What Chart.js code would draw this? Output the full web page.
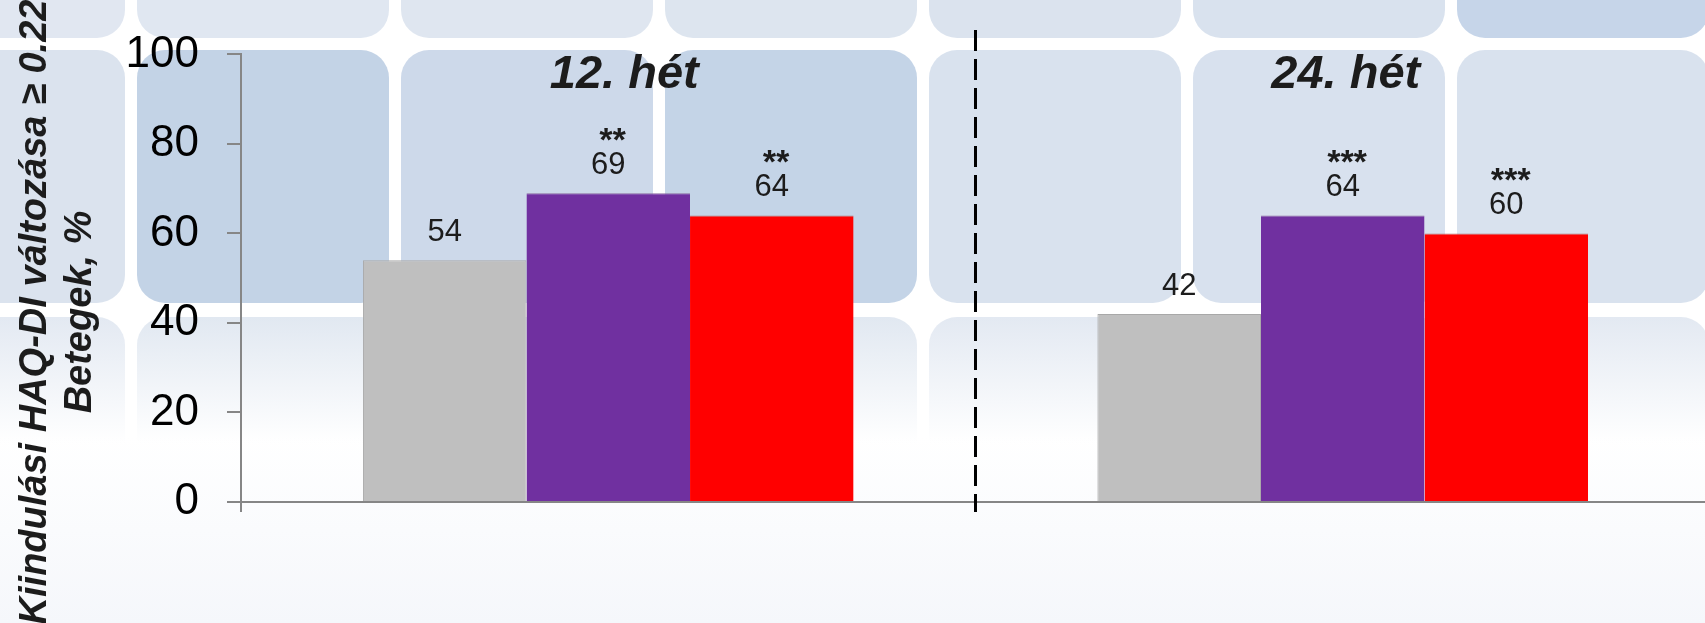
<!DOCTYPE html>
<html lang="hu">
<head>
<meta charset="utf-8">
<title>HAQ-DI válaszadók</title>
<script src="https://cdn.jsdelivr.net/npm/chart.js@4.4.1/dist/chart.umd.min.js"></script>
<style>
  html, body { margin: 0; padding: 0; }
  body {
    width: 1705px; height: 623px; overflow: hidden; position: relative;
    background: linear-gradient(#ffffff 70%, #f5f7fb);
  }
  #tiles { position: absolute; left: 0; top: 0; width: 1705px; height: 623px; overflow: hidden; }
  .tile { position: absolute; width: 252px; height: 253px; border-radius: 28px; }
  #chart { position: absolute; left: 0; top: 0; }
</style>
</head>
<body>
<div id="tiles"></div>
<canvas id="chart" width="1710" height="623"></canvas>
<script>
const categories = ['12. hét', '24. hét'];
const seriesNames = ['Csoport 1', 'Csoport 2', 'Csoport 3'];
const grayValues = [54, 42];
const purpleValues = [69, 64];
const redValues = [64, 60];
const grayStars = ['', ''];
const purpleStars = ['**', '***'];
const redStars = ['**', '***'];
const yTicks = [0, 20, 40, 60, 80, 100];
const yTitleLines = ['Kiindulási HAQ-DI változása ≥ 0.22', 'Betegek, %'];

const fontFamily = '"Liberation Sans", Arial, Helvetica, sans-serif';
const axisGray = '#868686';
const textDark = '#1c1c1c';

// rounded tile backdrop
const tileRows = [
  { top: -215, colors: ['#e1e7f1', '#e0e7f1', '#dfe6f0', '#dde5ef', '#dbe3ee', '#d9e2ee', '#c6d5e9'] },
  { top: 50, colors: ['#dbe3ee', '#c3d3e6', '#cdd9ea', '#c4d4e7', '#d9e2ee', '#d8e1ee', '#d9e2ee'] },
  { top: 317, colors: ['#e3e9f2', '#e1e8f1', '#e1e8f1', '#e1e8f1', '#e3e9f2', '#e3e9f2', '#e3e9f2'], fade: true }
];
const tilesEl = document.getElementById('tiles');
tileRows.forEach(row => {
  row.colors.forEach((c, k) => {
    const t = document.createElement('div');
    t.className = 'tile';
    t.style.left = (137 + 264 * (k - 1)) + 'px';
    t.style.top = row.top + 'px';
    t.style.background = row.fade
      ? `linear-gradient(${c}, rgba(255,255,255,0) 50%)`
      : `linear-gradient(${c}, ${c})`;
    tilesEl.appendChild(t);
  });
});

const annotate = {
  id: 'annotate',
  afterDatasetsDraw(chart) {
    const { ctx, chartArea, scales: { x } } = chart;
    ctx.save();

    // dashed divider between the two weeks
    const mid = (x.getPixelForValue(0) + x.getPixelForValue(1)) / 2;
    ctx.strokeStyle = '#000';
    ctx.lineWidth = 3;
    ctx.setLineDash([21, 8]);
    ctx.beginPath();
    ctx.moveTo(mid, 30);
    ctx.lineTo(mid, chartArea.bottom + 10);
    ctx.stroke();
    ctx.setLineDash([]);

    // week headers
    const headerNudge = [16, 3];
    ctx.fillStyle = textDark;
    ctx.textAlign = 'center';
    ctx.textBaseline = 'alphabetic';
    ctx.font = `italic bold 47px ${fontFamily}`;
    categories.forEach((c, i) => {
      ctx.fillText(c, x.getPixelForValue(i) + headerNudge[i], 88);
    });

    // values and significance marks above bars
    chart.data.datasets.forEach((ds, i) => {
      const meta = chart.getDatasetMeta(i);
      meta.data.forEach((bar, j) => {
        const base = bar.y - 19.5;
        ctx.font = `31px ${fontFamily}`;
        ctx.fillText(String(ds.data[j]), bar.x, base);
        if (ds.stars[j]) {
          ctx.font = `italic bold 34px ${fontFamily}`;
          ctx.fillText(ds.stars[j], bar.x + 3, base - 23);
        }
      });
    });

    // rotated y title, two lines
    ctx.font = `italic bold 38px ${fontFamily}`;
    const titleX = [46, 91];
    yTitleLines.forEach((line, i) => {
      ctx.save();
      ctx.translate(titleX[i], 312);
      ctx.rotate(-Math.PI / 2);
      ctx.fillText(line, 0, 0);
      ctx.restore();
    });

    ctx.restore();
  }
};

const ctx = document.getElementById('chart');
new Chart(ctx, {
  type: 'bar',
  data: {
    labels: categories,
    datasets: [
      { label: seriesNames[0], data: grayValues, stars: grayStars, backgroundColor: '#bfbfbf', borderColor: '#a8a8a8', borderWidth: 1 },
      { label: seriesNames[1], data: purpleValues, stars: purpleStars, backgroundColor: '#7030a0', borderColor: '#8a6aa0', borderWidth: { top: 1, left: 0, right: 0, bottom: 0 } },
      { label: seriesNames[2], data: redValues, stars: redStars, backgroundColor: '#ff0000', borderColor: '#b07070', borderWidth: { top: 1, left: 0, right: 0, bottom: 0 } }
    ]
  },
  options: {
    responsive: false,
    animation: false,
    events: [],
    layout: { padding: { top: 53, right: 0, bottom: 111, left: 0 } },
    datasets: { bar: { categoryPercentage: 0.668, barPercentage: 1 } },
    plugins: {
      legend: { display: false },
      tooltip: { enabled: false }
    },
    scales: {
      x: {
        ticks: { display: false },
        grid: { display: true, drawOnChartArea: false, offset: true, tickLength: 10, color: axisGray, lineWidth: 2 },
        border: { color: axisGray, width: 2 }
      },
      y: {
        min: 0,
        max: 100,
        afterBuildTicks: scale => { scale.ticks = yTicks.map(v => ({ value: v })); },
        afterFit: scale => { scale.width = 241; },
        ticks: { padding: 28, color: '#000', font: { size: 44, family: fontFamily } },
        grid: { drawOnChartArea: false, tickLength: 14, color: axisGray, lineWidth: 2 },
        border: { color: axisGray, width: 2 }
      }
    }
  },
  plugins: [annotate]
});
</script>
</body>
</html>
